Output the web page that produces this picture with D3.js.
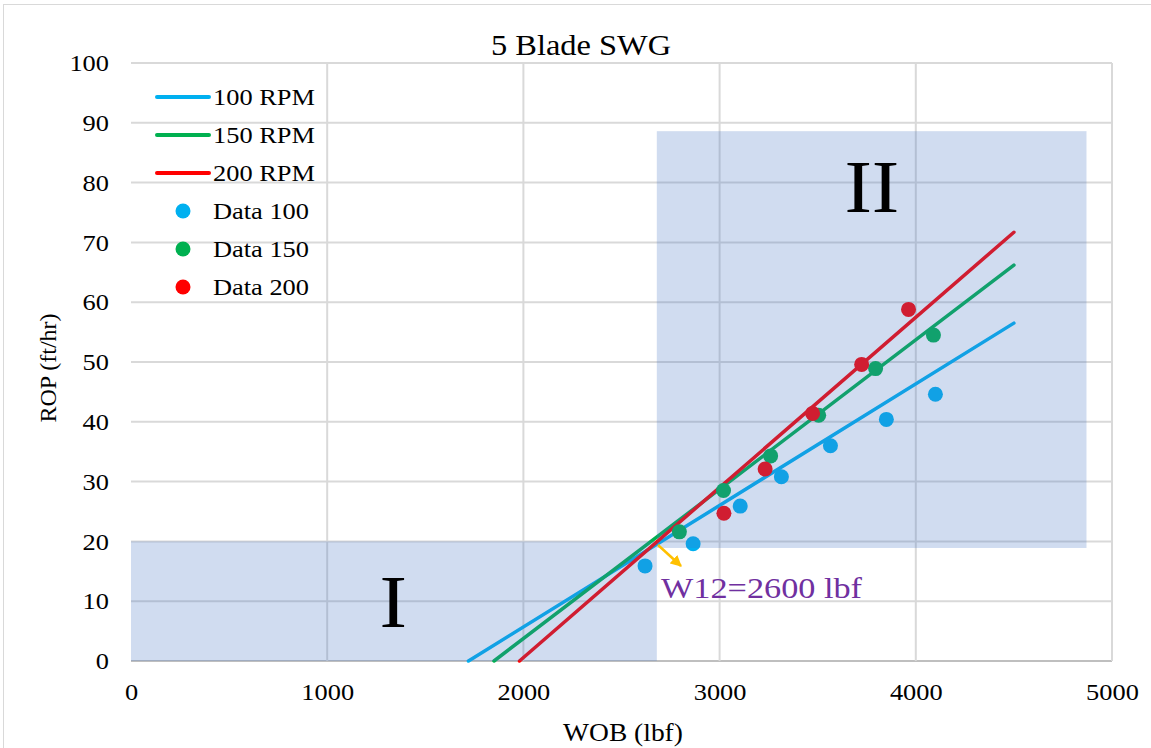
<!DOCTYPE html>
<html>
<head>
<meta charset="utf-8">
<script src="https://cdn.jsdelivr.net/npm/d3@7"></script>
<style>
  html, body { margin: 0; padding: 0; background: #fff; }
  svg { display: block; }
  text { font-family: "Liberation Serif", "Times New Roman", serif; fill: #000; }
</style>
</head>
<body>
<svg id="chart" width="1151" height="748"></svg>
<script>
// Axis ticks
const xTicks = [0, 1000, 2000, 3000, 4000, 5000];
const yTicks = [0, 10, 20, 30, 40, 50, 60, 70, 80, 90, 100];

// Linear fits (WOB endpoints, ROP endpoints)
const fitNames = ["100 RPM", "150 RPM", "200 RPM"];
const fit100 = [[1720, 0], [4500, 56.5]];
const fit150 = [[1850, 0], [4500, 66.2]];
const fit200 = [[1980, 0], [4500, 71.7]];

// Measured data
const dataNames = ["Data 100", "Data 150", "Data 200"];
const wob100 = [2620, 2865, 3105, 3315, 3565, 3850, 4100];
const rop100 = [15.9, 19.6, 25.9, 30.8, 36.0, 40.4, 44.6];
const wob150 = [2795, 3020, 3260, 3505, 3795, 4090];
const rop150 = [21.6, 28.5, 34.3, 41.1, 48.9, 54.5];
const wob200 = [3022, 3232, 3474, 3724, 3963];
const rop200 = [24.7, 32.1, 41.4, 49.6, 58.8];

// Operating regions (WOB range, ROP range)
const regionI = { x: [0, 2680], y: [0, 20], label: "I", at: [1337, 5.7] };
const regionII = { x: [2680, 4870], y: [18.9, 88.6], label: "II", at: [3776, 75.1] };

// Transition annotation
const transitionText = "W12=2600 lbf";

const colors = ["#00b0f0", "#00b050", "#ff0000"];
const SX = 1.1; // horizontal widening of the serif text

const svg = d3.select("#chart");
const margin = { left: 131, right: 39, top: 63, bottom: 87 };
const W = 1151, H = 748;

const x = d3.scaleLinear().domain([0, 5000]).range([margin.left, W - margin.right]);
const y = d3.scaleLinear().domain([0, 100]).range([H - margin.bottom, margin.top]);

// Places a horizontally widened text at (px, py)
function wideText(parent, px, py, str, size, anchor) {
  return parent.append("text")
    .attr("transform", `translate(${px},${py}) scale(${SX},1)`)
    .attr("text-anchor", anchor || "start")
    .attr("font-size", size)
    .text(str);
}

// Outer chart frame
svg.append("rect")
  .attr("x", 3.5).attr("y", 4.5).attr("width", 1150).attr("height", 760)
  .attr("fill", "none").attr("stroke", "#d9d9d9").attr("stroke-width", 1);

// Gridlines
const grid = svg.append("g");
grid.selectAll("line.h").data(yTicks).join("line")
  .attr("x1", x(0)).attr("x2", x(5000))
  .attr("y1", d => y(d)).attr("y2", d => y(d))
  .attr("stroke", d => d === 0 ? "#bfbfbf" : "#d9d9d9").attr("stroke-width", 2);
grid.selectAll("line.v").data(xTicks.filter(d => d > 0)).join("line")
  .attr("y1", y(0)).attr("y2", y(100))
  .attr("x1", d => x(d)).attr("x2", d => x(d))
  .attr("stroke", "#d9d9d9").attr("stroke-width", 2);

// Axes (labels only)
const xAxis = d3.axisBottom(x).tickValues(xTicks).tickSize(0).tickPadding(22).tickFormat(d3.format("d"));
const yAxis = d3.axisLeft(y).tickValues(yTicks).tickSize(0).tickPadding(0).tickFormat(d3.format("d"));
const gx = svg.append("g").attr("transform", `translate(0,${y(0)})`).call(xAxis);
const gy = svg.append("g").attr("transform", `translate(${x(0)},0)`).call(yAxis);
[gx, gy].forEach(g => {
  g.select(".domain").remove();
  g.selectAll("text").attr("font-family", "Liberation Serif").attr("font-size", 24).attr("fill", "#000");
});
gx.selectAll("text").attr("transform", `scale(${SX},1)`);
gy.selectAll("text").attr("x", 0).attr("transform", `translate(-22,0) scale(${SX},1)`);

// Fit lines
const line = d3.line().x(d => x(d[0])).y(d => y(d[1]));
const fits = [fit100, fit150, fit200];
svg.append("g").selectAll("path").data(fits).join("path")
  .attr("d", line).attr("fill", "none")
  .attr("stroke", (d, i) => colors[i]).attr("stroke-width", 3.5)
  .attr("stroke-linecap", "round");

// Data points
const series = [[wob100, rop100], [wob150, rop150], [wob200, rop200]];
series.forEach(([ws, rs], i) => {
  svg.append("g").selectAll("circle").data(ws.map((w, k) => [w, rs[k]])).join("circle")
    .attr("cx", d => x(d[0])).attr("cy", d => y(d[1])).attr("r", 7.5)
    .attr("fill", colors[i]);
});

// Region overlays
[regionI, regionII].forEach(r => {
  svg.append("rect")
    .attr("x", x(r.x[0])).attr("y", y(r.y[1]))
    .attr("width", x(r.x[1]) - x(r.x[0])).attr("height", y(r.y[0]) - y(r.y[1]))
    .attr("fill", "#4472c4").attr("fill-opacity", 0.25);
  wideText(svg, x(r.at[0]), y(r.at[1]), r.label, 75, "middle");
});

// Transition arrow and label
const defs = svg.append("defs");
defs.append("marker").attr("id", "arrowhead")
  .attr("viewBox", "0 0 10 10").attr("refX", 9).attr("refY", 5)
  .attr("markerWidth", 4.5).attr("markerHeight", 4.5).attr("orient", "auto")
  .append("path").attr("d", "M0,0 L10,5 L0,10 Z").attr("fill", "#ffc000");
svg.append("line")
  .attr("x1", 658).attr("y1", 545).attr("x2", 681).attr("y2", 566)
  .attr("stroke", "#ffc000").attr("stroke-width", 2.5)
  .attr("marker-end", "url(#arrowhead)");
svg.append("text")
  .attr("x", 661).attr("y", 598)
  .attr("font-family", "Lato, 'Noto Sans', sans-serif").attr("font-size", 30)
  .attr("textLength", 201).attr("lengthAdjust", "spacingAndGlyphs")
  .style("fill", "#7030a0")
  .text(transitionText);

// Title and axis titles
wideText(svg, 581, 55, "5 Blade SWG", 29.5, "middle");
wideText(svg, 623, 741, "WOB (lbf)", 25, "middle");
svg.append("text").attr("transform", "translate(56,368) rotate(-90)")
  .attr("text-anchor", "middle").attr("font-size", 24).text("ROP (ft/hr)");

// Legend
const legend = svg.append("g");
fitNames.forEach((name, i) => {
  const ly = 97 + i * 38;
  legend.append("line").attr("x1", 157).attr("x2", 209).attr("y1", ly).attr("y2", ly)
    .attr("stroke", colors[i]).attr("stroke-width", 4).attr("stroke-linecap", "round");
  wideText(legend, 213, ly + 8, name, 24);
});
dataNames.forEach((name, i) => {
  const ly = 211 + i * 38;
  legend.append("circle").attr("cx", 183).attr("cy", ly).attr("r", 7.5).attr("fill", colors[i]);
  wideText(legend, 213, ly + 8, name, 24);
});
</script>
</body>
</html>
